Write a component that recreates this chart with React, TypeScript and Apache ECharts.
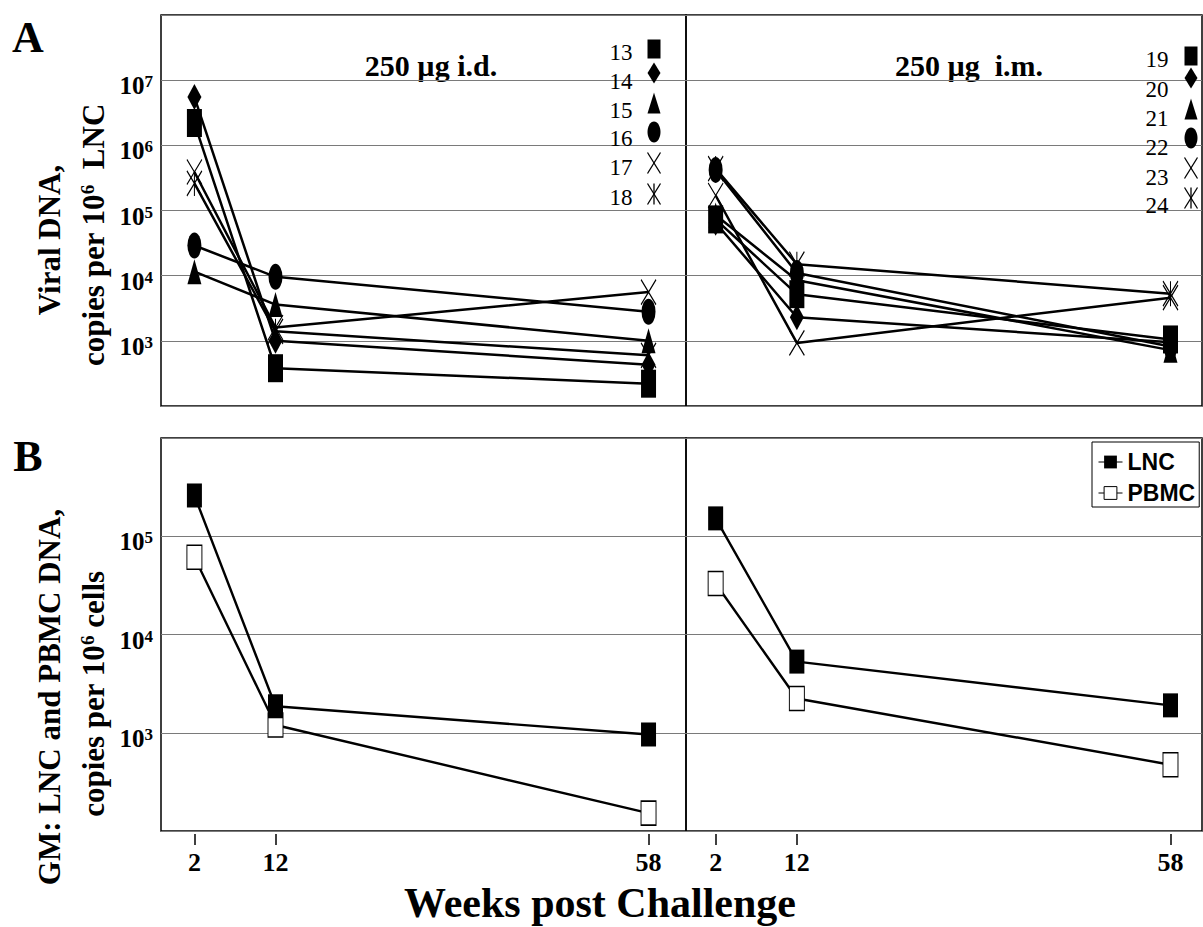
import React, { useEffect, useRef } from 'react';
import * as echarts from 'echarts';

// ---------- DATA ----------
const weeks = [2, 12, 58];
const tickWeeks = [2, 12, 58];

const idAnimals = ['13', '14', '15', '16', '17', '18'];
const id13 = [2.2e6, 380, 220];
const id14 = [5.5e6, 1000, 430];
const id15 = [1.15e4, 3.6e3, 1.0e3];
const id16 = [2.9e4, 9.6e3, 2.8e3];
const id17 = [3.9e5, 1.6e3, 5.6e3];
const id18 = [2.6e5, 1.4e3, 600];

const imAnimals = ['19', '20', '21', '22', '23', '24'];
const im19 = [7.3e4, 5.2e3, 1.05e3];
const im20 = [6.5e4, 2.3e3, 950];
const im21 = [8.5e4, 8.5e3, 720];
const im22 = [4.2e5, 1.1e4, 820];
const im23 = [1.7e5, 930, 4.6e3];
const im24 = [4.4e5, 1.5e4, 5.3e3];

const gmNames = ['LNC', 'PBMC'];
const lncID = [2.6e5, 1.86e3, 960];
const pbmcID = [6.1e4, 1.2e3, 152];
const lncIM = [1.52e5, 5.3e3, 1.9e3];
const pbmcIM = [3.3e4, 2.23e3, 473];

const titleID = '250 µg i.d.';
const titleIM = '250 µg  i.m.';

// ---------- STYLE ----------
const SERIF = "'Liberation Serif', 'Times New Roman', serif";
const SANS = "'Liberation Sans', Arial, sans-serif";

const ELLIPSE = 'path://M0,-10 A10,10 0 1,1 0,10 A10,10 0 1,1 0,-10 Z';
const XMARK = 'path://M0,0 L10,10 M10,0 L0,10';
const STAR = 'path://M0,0 L10,10 M10,0 L0,10 M5,0 L5,10';
const markerKinds = ['square', 'diamond', 'triangle', 'circle', 'x', 'star'];
const symbolOf: Record<string, string> = {
  square: 'rect', diamond: 'diamond', triangle: 'triangle', circle: ELLIPSE, x: XMARK, star: STAR,
};
const sizeOf: Record<string, number[]> = {
  square: [15, 28], diamond: [14, 26], triangle: [14, 25], circle: [14, 26], x: [15, 25], star: [15, 25],
};

function animalSeries(name: string, vals: number[], kind: string, g: number) {
  const stroke = kind === 'x' || kind === 'star';
  return {
    type: 'line',
    name,
    xAxisIndex: g,
    yAxisIndex: g,
    data: weeks.map((w, i) => [w, vals[i]]),
    symbol: symbolOf[kind],
    symbolSize: sizeOf[kind],
    lineStyle: { color: '#000', width: 2.5 },
    itemStyle: stroke
      ? { color: 'transparent', borderColor: '#000', borderWidth: 1.3 }
      : { color: '#000', borderWidth: 0 },
    emphasis: { disabled: true },
    z: 3,
  };
}

function gmSeries(name: string, vals: number[], g: number) {
  const open = name === 'PBMC';
  return {
    type: 'line',
    name,
    xAxisIndex: g,
    yAxisIndex: g,
    data: weeks.map((w, i) => [w, vals[i]]),
    symbol: 'rect',
    symbolSize: [15, 24],
    lineStyle: { color: '#000', width: 2.4 },
    itemStyle: open
      ? { color: '#fff', borderColor: '#000', borderWidth: 1.2 }
      : { color: '#000', borderWidth: 0 },
    emphasis: { disabled: true },
    z: 3,
  };
}

function legendMarker(kind: string, cx: number, cy: number, w: number, h: number) {
  const fill = { fill: '#000' };
  const ln = { stroke: '#000', lineWidth: 1.3 };
  switch (kind) {
    case 'square':
      return { type: 'rect', shape: { x: cx - w / 2, y: cy - h / 2, width: w, height: h }, style: fill };
    case 'diamond':
      return { type: 'polygon', shape: { points: [[cx, cy - h / 2], [cx + w / 2, cy], [cx, cy + h / 2], [cx - w / 2, cy]] }, style: fill };
    case 'triangle':
      return { type: 'polygon', shape: { points: [[cx, cy - h / 2], [cx + w / 2, cy + h / 2], [cx - w / 2, cy + h / 2]] }, style: fill };
    case 'circle':
      return { type: 'ellipse', shape: { cx, cy, rx: w / 2, ry: h / 2 }, style: fill };
    case 'x':
      return {
        type: 'group',
        children: [
          { type: 'line', shape: { x1: cx - w / 2, y1: cy - h / 2, x2: cx + w / 2, y2: cy + h / 2 }, style: ln },
          { type: 'line', shape: { x1: cx + w / 2, y1: cy - h / 2, x2: cx - w / 2, y2: cy + h / 2 }, style: ln },
        ],
      };
    default:
      return {
        type: 'group',
        children: [
          { type: 'line', shape: { x1: cx - w / 2, y1: cy - h / 2, x2: cx + w / 2, y2: cy + h / 2 }, style: ln },
          { type: 'line', shape: { x1: cx + w / 2, y1: cy - h / 2, x2: cx - w / 2, y2: cy + h / 2 }, style: ln },
          { type: 'line', shape: { x1: cx, y1: cy - h / 2, x2: cx, y2: cy + h / 2 }, style: ln },
        ],
      };
  }
}

function animalLegend(names: string[], numX: number, numY: number[], markX: number, markY: number[]) {
  const out: any[] = [];
  names.forEach((n, i) => {
    out.push({
      type: 'text', x: numX, y: numY[i],
      style: { text: n, font: `23px ${SERIF}`, fill: '#000', align: 'center', verticalAlign: 'middle' },
      z: 10,
    });
    const k = markerKinds[i];
    const sz = k === 'square' ? [13, 19] : [13, 21];
    out.push({ ...legendMarker(k, markX, markY[i], sz[0], sz[1]), z: 10 });
  });
  return out;
}

const supRich = {
  t: { fontFamily: SERIF, fontWeight: 'bold', fontSize: 31, fill: '#000', color: '#000' },
  s: { fontFamily: SERIF, fontWeight: 'bold', fontSize: 19, verticalAlign: 'top', fill: '#000', color: '#000' },
};

function rotText(text: string, x: number, y: number) {
  return {
    type: 'text', x, y, rotation: Math.PI / 2,
    style: { text, rich: supRich, align: 'center', verticalAlign: 'middle', font: `bold 31px ${SERIF}`, fill: '#000' },
  };
}

function yLabel(maxE: number) {
  return {
    show: true,
    margin: 8,
    padding: [11, 0, 0, 0],
    formatter: (v: number) => {
      const e = Math.round(Math.log10(v));
      if (e < 3 || e > maxE) return '';
      return `{b|10}{s|${e}}`;
    },
    rich: {
      b: { fontFamily: SERIF, fontWeight: 'bold', fontSize: 25, color: '#000', lineHeight: 25 },
      s: { fontFamily: SERIF, fontWeight: 'bold', fontSize: 17, color: '#000', lineHeight: 17, verticalAlign: 'top' },
    },
  };
}

const gridBox = { show: true, borderColor: '#000', borderWidth: 1.5, backgroundColor: 'transparent' };

const xRanges = [
  [-2.12, 62.62],
  [-1.65, 61.88],
];

function buildOption() {
  const grids = [
    { left: 161, top: 15, width: 525, height: 391, ...gridBox },
    { left: 686, top: 15, width: 516, height: 391, ...gridBox },
    { left: 161, top: 438, width: 525, height: 393, ...gridBox },
    { left: 686, top: 438, width: 516, height: 393, ...gridBox },
  ];
  const xAxes = grids.map((_, i) => ({
    type: 'value',
    gridIndex: i,
    min: xRanges[i % 2][0],
    max: xRanges[i % 2][1],
    show: i >= 2,
    offset: 3,
    axisLine: { show: false },
    splitLine: { show: false },
    axisTick: { show: true, length: 11, customValues: tickWeeks, lineStyle: { color: '#000', width: 1.5 } },
    axisLabel: {
      show: true, customValues: tickWeeks, margin: 15,
      fontFamily: SERIF, fontWeight: 'bold', fontSize: 26, color: '#000',
    },
  }));
  const yAxes = grids.map((_, i) => ({
    type: 'log',
    logBase: 10,
    gridIndex: i,
    min: 100,
    max: i < 2 ? 1e8 : 1e6,
    axisLine: { show: false },
    axisTick: { show: false },
    splitLine: { show: true, lineStyle: { color: '#7a7a7a', width: 1 } },
    axisLabel: i % 2 === 0 ? yLabel(i < 2 ? 7 : 5) : { show: false },
  }));

  const idVals = [id13, id14, id15, id16, id17, id18];
  const imVals = [im19, im20, im21, im22, im23, im24];
  const series: any[] = [];
  idVals.forEach((v, k) => series.push(animalSeries(idAnimals[k], v, markerKinds[k], 0)));
  imVals.forEach((v, k) => series.push(animalSeries(imAnimals[k], v, markerKinds[k], 1)));
  series.push(gmSeries(gmNames[1], pbmcID, 2));
  series.push(gmSeries(gmNames[0], lncID, 2));
  series.push(gmSeries(gmNames[1], pbmcIM, 3));
  series.push(gmSeries(gmNames[0], lncIM, 3));

  const graphic: any[] = [
    { type: 'text', x: 28, y: 37, style: { text: 'A', font: `bold 44px ${SERIF}`, fill: '#000', align: 'center', verticalAlign: 'middle' } },
    { type: 'text', x: 28, y: 456, style: { text: 'B', font: `bold 44px ${SERIF}`, fill: '#000', align: 'center', verticalAlign: 'middle' } },
    { type: 'text', x: 431, y: 65, style: { text: titleID, font: `bold 30px ${SERIF}`, fill: '#000', align: 'center', verticalAlign: 'middle' } },
    { type: 'text', x: 969, y: 65, style: { text: titleIM, font: `bold 30px ${SERIF}`, fill: '#000', align: 'center', verticalAlign: 'middle' } },
    rotText('{t|Viral DNA,}', 49, 240),
    rotText('{t|copies per 10}{s|6}{t|  LNC}', 93, 235),
    rotText('{t|GM: LNC and PBMC DNA,}', 49, 697),
    rotText('{t|copies per 10}{s|6}{t| cells}', 93, 694),
    { type: 'text', x: 600, y: 903, style: { text: 'Weeks post Challenge', font: `bold 42px ${SERIF}`, fill: '#000', align: 'center', verticalAlign: 'middle' } },
    ...animalLegend(idAnimals, 621, [52.5, 81, 110, 138, 167, 197], 654, [49, 73, 103, 132, 163, 194]),
    ...animalLegend(imAnimals, 1157, [59, 89, 118, 147, 177, 205], 1191, [56, 78, 109, 138, 168, 198]),
  ];

  return {
    animation: false,
    backgroundColor: '#fff',
    grid: grids,
    xAxis: xAxes,
    yAxis: yAxes,
    series,
    legend: [
      {
        data: [
          { name: 'LNC' },
          { name: 'PBMC', itemStyle: { color: '#fff', borderColor: '#000', borderWidth: 1 } },
        ],
        orient: 'vertical',
        left: 1092,
        top: 442,
        padding: [7, 4, 1, 6],
        itemGap: 5,
        itemWidth: 24,
        itemHeight: 16,
        borderColor: '#000',
        borderWidth: 1,
        selectedMode: false,
        lineStyle: { width: 1, color: '#000' },
        textStyle: { fontFamily: SANS, fontWeight: 'bold', fontSize: 23, color: '#000', lineHeight: 26 },
      },
    ],
    graphic,
  };
}

export default function App() {
  const ref = useRef<HTMLDivElement>(null);
  useEffect(() => {
    const chart = echarts.init(ref.current!, null, { renderer: 'svg' });
    chart.setOption(buildOption() as any);
    return () => chart.dispose();
  }, []);
  return (
    <div
      ref={ref}
      style={{ position: 'absolute', left: 0, top: 0, width: 1203, height: 927, background: '#fff' }}
    />
  );
}
